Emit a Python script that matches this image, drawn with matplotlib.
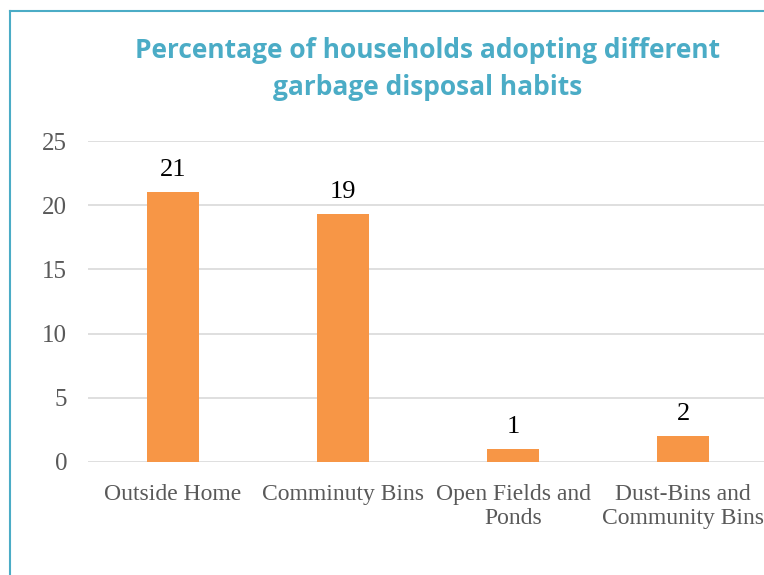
import matplotlib.pyplot as plt
from matplotlib.lines import Line2D

# households by garbage disposal habit (%)
categories = ["Outside Home", "Comminuty Bins", "Open Fields and\nPonds",
              "Dust-Bins and\nCommunity Bins"]
values = [21, 19.3, 1, 2]
yticks = [0, 5, 10, 15, 20, 25]

W, H = 764, 575
fig = plt.figure(figsize=(W / 100, H / 100), dpi=100)
ax = fig.add_axes([88 / W, 1 - 462 / H, 680 / W, (462 - 141) / H])

x = range(len(categories))
bars = ax.bar(x, values, width=0.31, color="#F79646", zorder=3)

ax.set_xlim(-0.5, 3.5)
ax.set_ylim(0, 25)
ax.set_yticks(yticks)
ax.set_xticks(list(x))
ax.set_xticklabels(categories, fontsize=17, color="#595959",
                   family="Liberation Serif", linespacing=1.2)
ax.set_yticklabels([str(t) for t in yticks], fontsize=18, color="#595959",
                   family="Liberation Serif")
ax.tick_params(axis="both", length=0)
ax.tick_params(axis="y", pad=15)
ax.tick_params(axis="x", pad=16)
ax.grid(axis="y", color="#D9D9D9", linewidth=1.2, zorder=0)
for s in ax.spines.values():
    s.set_visible(False)

for b, v in zip(bars, values):
    ax.text(b.get_x() + b.get_width() / 2, v + 0.9, f"{v:.0f}",
            ha="center", va="bottom", fontsize=19, color="black",
            family="Liberation Serif")

fig.text(428 / W, 1 - 69 / H,
         "Percentage of households adopting different\ngarbage disposal habits",
         ha="center", va="center", fontsize=19, fontweight="bold",
         color="#4BACC6", family="Open Sans", linespacing=1.5)

# chart area border (left and top edges)
fig.add_artist(Line2D([9.5 / W, 9.5 / W], [0, 1 - 11 / H],
                      transform=fig.transFigure, color="#4BACC6", linewidth=1.5))
fig.add_artist(Line2D([9.5 / W, 1], [1 - 11 / H, 1 - 11 / H],
                      transform=fig.transFigure, color="#4BACC6", linewidth=1.5))

fig.savefig("out.png", dpi=100)
